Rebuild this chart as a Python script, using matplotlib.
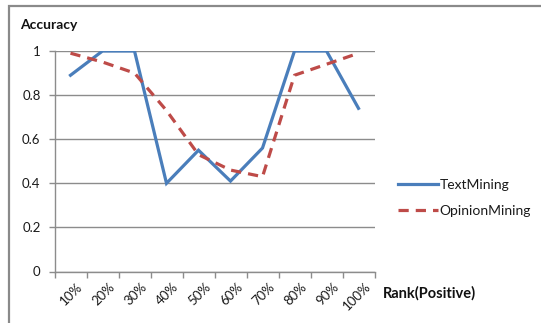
import matplotlib
matplotlib.use("Agg")
import matplotlib.pyplot as plt
import matplotlib.transforms as mtransforms
from matplotlib.patches import Rectangle

categories = ["10%", "20%", "30%", "40%", "50%", "60%", "70%", "80%", "90%", "100%"]
text_mining = [0.89, 1.0, 1.0, 0.40, 0.55, 0.41, 0.56, 1.0, 1.0, 0.74]
opinion_mining = [0.99, 0.95, 0.90, 0.73, 0.53, 0.46, 0.43, 0.89, 0.94, 0.99]
y_ticks = [0, 0.2, 0.4, 0.6, 0.8, 1.0]
y_tick_labels = ["0", "0.2", "0.4", "0.6", "0.8", "1"]

plt.rcParams["font.family"] = ["Lato", "DejaVu Sans"]

W, H = 541, 323
fig = plt.figure(figsize=(W / 100, H / 100), dpi=100)
fig.patch.set_facecolor("white")

# chart-area border
fig.patches.append(Rectangle((9 / W, -0.1), 1.2, 1 - 6 / H + 0.1,
                             transform=fig.transFigure, fill=False,
                             edgecolor="#8a8a8a", linewidth=1.6))

ax = fig.add_axes([54.5 / W, 1 - 271.5 / H, (374.5 - 54.5) / W, (271.5 - 51) / H])
x = list(range(1, len(categories) + 1))

ax.plot(x, text_mining, color="#4a7ebb", linewidth=2.3, label="TextMining",
        solid_joinstyle="miter")
ax.plot(x, opinion_mining, color="#be4b48", linewidth=2.3, label="OpinionMining",
        dashes=(3.2, 2.2))

ax.set_xlim(0.5, len(categories) + 0.5)
ax.set_ylim(0, 1)
ax.set_yticks(y_ticks)
ax.set_yticklabels(y_tick_labels)
ax.yaxis.grid(True, color="#8c8c8c", linewidth=1.0)
ax.set_axisbelow(True)

# category boundaries carry the tick marks, labels sit at category centres
ax.set_xticks([i + 0.5 for i in range(0, len(categories) + 1)])
ax.set_xticklabels([])
ax.tick_params(axis="x", length=4, width=1, color="#8c8c8c", direction="out")
ax.tick_params(axis="y", length=4, width=1, color="#8c8c8c", direction="out",
               labelsize=9.5, labelcolor="#1a1a1a", pad=6)

offset = mtransforms.ScaledTranslation(6 / 100, -9 / 100, fig.dpi_scale_trans)
for xi, lab in zip(x, categories):
    ax.text(xi, 0, lab, transform=ax.get_xaxis_transform() + offset,
            rotation=45, ha="right", va="top", rotation_mode="anchor",
            fontsize=9.5, color="#1a1a1a")

for side in ("top", "right"):
    ax.spines[side].set_visible(False)
for side in ("left", "bottom"):
    ax.spines[side].set_color("#8c8c8c")
    ax.spines[side].set_linewidth(1.0)

fig.text(20 / W, 1 - 25 / H, "Accuracy", fontsize=10, fontweight="bold",
         ha="left", va="center", color="#111111")
fig.text(383 / W, 1 - 293 / H, "Rank(Positive)", fontsize=10.5, fontweight="bold",
         ha="left", va="center", color="#111111")

leg = ax.legend(loc="center left", bbox_to_anchor=(398 / W, 1 - 198 / H),
                bbox_transform=fig.transFigure, frameon=False, fontsize=10,
                handlelength=2.9, handletextpad=0.1, labelspacing=1.0,
                borderpad=0, borderaxespad=0)
for t in leg.get_texts():
    t.set_color("#1a1a1a")

fig.savefig("out.png", dpi=100)
